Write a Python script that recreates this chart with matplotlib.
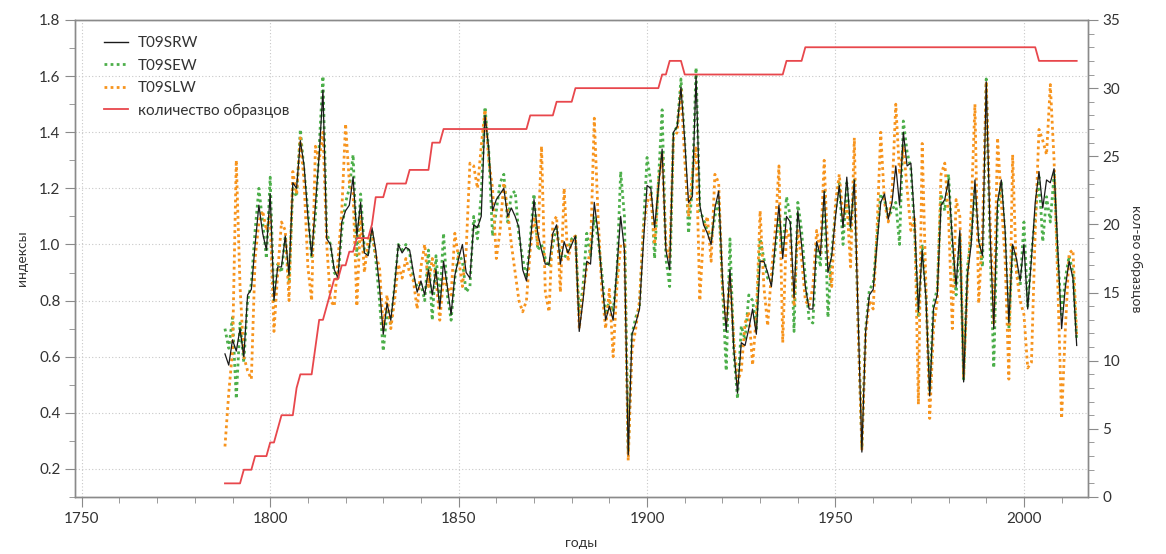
import numpy as np
import matplotlib
matplotlib.use("Agg")
import matplotlib.pyplot as plt
from matplotlib.ticker import MultipleLocator
from matplotlib.lines import Line2D

plt.rcParams["font.family"] = ["Lato", "DejaVu Sans"]

YEAR_FIRST, YEAR_LAST = 1788, 2014
years = np.arange(YEAR_FIRST, YEAR_LAST + 1)

srw = [
    0.61, 0.57, 0.66, 0.62, 0.70, 0.60, 0.82, 0.84, 1.00, 1.14,
    1.04, 0.98, 1.18, 0.80, 0.92, 0.92, 1.03, 0.89, 1.22, 1.20,
    1.37, 1.28, 1.10, 0.96, 1.14, 1.32, 1.55, 1.02, 1.00, 0.91,
    0.88, 1.08, 1.12, 1.14, 1.24, 1.03, 1.15, 0.97, 0.96, 1.06,
    0.98, 0.85, 0.68, 0.79, 0.73, 0.85, 1.00, 0.97, 0.99, 0.98,
    0.90, 0.83, 0.87, 0.82, 0.91, 0.82, 0.91, 0.77, 0.94, 0.85,
    0.75, 0.89, 0.95, 1.00, 0.90, 0.88, 1.07, 1.06, 1.10, 1.46,
    1.34, 1.12, 1.16, 1.18, 1.20, 1.10, 1.13, 1.10, 1.06, 0.91,
    0.87, 1.00, 1.16, 1.04, 0.98, 0.93, 0.93, 1.04, 1.07, 0.93,
    1.01, 0.97, 1.00, 1.03, 0.69, 0.80, 0.94, 0.93, 1.15, 1.04,
    0.88, 0.73, 0.78, 0.73, 0.92, 1.10, 0.98, 0.25, 0.68, 0.72,
    0.77, 1.00, 1.21, 1.20, 1.06, 1.20, 1.34, 0.98, 0.91, 1.40,
    1.42, 1.56, 1.37, 1.15, 1.17, 1.60, 1.14, 1.07, 1.04, 1.00,
    1.13, 1.19, 0.88, 0.69, 0.91, 0.63, 0.47, 0.65, 0.64, 0.70,
    0.77, 0.68, 0.94, 0.94, 0.90, 0.85, 1.00, 1.14, 0.95, 1.10,
    1.08, 0.81, 1.12, 1.00, 0.85, 0.77, 0.77, 1.01, 0.96, 1.19,
    0.90, 0.96, 1.10, 1.21, 1.06, 1.24, 1.06, 1.23, 0.75, 0.26,
    0.69, 0.82, 0.84, 1.00, 1.15, 1.18, 1.09, 1.15, 1.28, 1.14,
    1.40, 1.28, 1.29, 1.08, 0.76, 0.98, 0.81, 0.46, 0.77, 0.82,
    1.14, 1.16, 1.23, 1.02, 0.85, 1.05, 0.51, 0.89, 1.00, 1.23,
    1.01, 0.96, 1.58, 1.05, 0.70, 1.15, 1.23, 1.05, 0.72, 1.00,
    0.95, 0.87, 1.00, 0.77, 0.95, 1.15, 1.26, 1.13, 1.23, 1.22,
    1.27, 0.98, 0.70, 0.85, 0.94, 0.88, 0.64,
]

sew = [
    0.70, 0.63, 0.74, 0.45, 0.72, 0.58, 0.80, 0.86, 1.05, 1.20,
    1.08, 0.95, 1.24, 0.79, 0.93, 0.90, 1.03, 0.86, 1.20, 1.17,
    1.41, 1.26, 1.12, 0.95, 1.10, 1.35, 1.60, 1.04, 1.00, 0.90,
    0.88, 1.05, 1.15, 1.20, 1.32, 0.96, 1.18, 0.98, 0.97, 1.05,
    0.95, 0.80, 0.62, 0.76, 0.72, 0.85, 1.00, 0.98, 1.00, 0.97,
    0.88, 0.85, 0.86, 0.80, 0.98, 0.73, 0.96, 0.80, 1.04, 0.82,
    0.73, 0.88, 0.97, 0.94, 0.83, 0.85, 1.10, 1.02, 1.18, 1.49,
    1.33, 1.03, 1.12, 1.22, 1.25, 1.08, 1.18, 1.19, 1.03, 0.95,
    0.88, 1.02, 1.18, 0.98, 1.00, 0.95, 0.92, 1.00, 1.06, 0.96,
    0.95, 0.98, 1.02, 1.03, 0.75, 0.85, 1.04, 0.96, 1.10, 1.02,
    0.90, 0.75, 0.80, 0.76, 0.90, 1.26, 1.10, 0.26, 0.68, 0.74,
    0.78, 1.05, 1.31, 1.22, 0.95, 1.22, 1.48, 0.95, 0.85, 1.40,
    1.42, 1.59, 1.36, 1.04, 1.20, 1.63, 1.12, 1.09, 1.05, 1.02,
    1.10, 1.16, 0.85, 0.55, 1.02, 0.62, 0.45, 0.71, 0.66, 0.82,
    0.80, 0.70, 1.02, 0.95, 0.88, 0.87, 0.98, 1.10, 0.97, 1.17,
    1.10, 0.69, 1.15, 1.05, 0.88, 0.73, 0.72, 1.00, 0.92, 1.20,
    0.74, 0.97, 1.12, 1.22, 1.00, 1.22, 1.05, 1.23, 0.72, 0.28,
    0.70, 0.84, 0.86, 1.02, 1.18, 1.16, 1.10, 1.12, 1.15, 1.00,
    1.44, 1.33, 1.27, 1.05, 0.74, 1.00, 0.82, 0.48, 0.79, 0.84,
    1.18, 1.12, 1.25, 1.00, 0.82, 1.03, 0.52, 0.92, 1.02, 1.20,
    1.02, 0.92, 1.59, 1.00, 0.56, 1.12, 1.22, 1.03, 0.70, 1.00,
    0.92, 0.85, 1.08, 0.78, 0.97, 1.10, 1.24, 1.01, 1.17, 1.08,
    1.25, 0.95, 0.75, 0.88, 0.96, 0.90, 0.66,
]

slw = [
    0.28, 0.47, 0.62, 1.30, 0.85, 0.60, 0.55, 0.52, 0.95, 1.08,
    1.12, 1.05, 1.10, 0.69, 0.90, 1.08, 1.05, 0.80, 1.26, 1.18,
    1.38, 1.22, 0.92, 0.80, 1.35, 1.30, 1.40, 1.00, 0.80, 0.78,
    0.95, 1.12, 1.43, 1.22, 1.18, 0.78, 1.10, 0.90, 1.02, 1.04,
    0.96, 0.92, 0.70, 0.82, 0.70, 0.80, 0.93, 0.88, 0.95, 0.90,
    0.87, 0.77, 0.92, 1.00, 0.85, 0.95, 0.88, 0.73, 0.88, 0.85,
    0.82, 1.04, 0.95, 0.85, 0.98, 1.29, 1.28, 1.20, 1.35, 1.48,
    1.30, 1.20, 0.95, 1.05, 1.22, 1.12, 1.00, 0.90, 0.80, 0.76,
    0.80, 0.98, 1.10, 1.00, 1.35, 0.83, 0.76, 1.08, 1.10, 0.83,
    1.20, 0.94, 1.02, 1.03, 0.70, 0.82, 0.92, 0.98, 1.45, 1.10,
    0.84, 0.70, 0.84, 0.60, 0.85, 1.00, 1.00, 0.23, 0.62, 0.70,
    0.80, 1.05, 1.15, 1.18, 1.00, 1.22, 1.32, 1.00, 0.95, 1.38,
    1.40, 1.55, 1.30, 1.10, 1.25, 1.35, 0.80, 1.05, 1.10, 0.94,
    1.25, 1.22, 0.85, 0.72, 0.88, 0.66, 0.51, 0.55, 0.72, 0.76,
    0.57, 0.75, 1.12, 0.85, 0.71, 0.90, 1.05, 1.28, 0.65, 1.05,
    1.02, 0.78, 1.05, 0.95, 0.80, 0.78, 0.85, 1.05, 0.97, 1.30,
    0.95, 0.85, 1.15, 1.25, 1.10, 1.15, 0.92, 1.38, 0.70, 0.27,
    0.68, 0.80, 0.77, 1.05, 1.40, 1.15, 1.08, 1.18, 1.50, 1.25,
    1.35, 1.20, 1.05, 1.10, 0.43, 1.36, 0.85, 0.38, 0.70, 0.80,
    1.25, 1.29, 1.10, 0.70, 1.16, 1.10, 0.53, 0.85, 1.12, 1.50,
    0.79, 1.05, 1.58, 1.10, 0.72, 1.38, 1.15, 0.95, 0.52, 1.32,
    0.90, 0.80, 0.75, 0.56, 0.58, 1.05, 1.41, 1.37, 1.32, 1.57,
    1.30, 0.85, 0.38, 0.70, 0.97, 0.98, 0.68,
]

# sample depth: (count, number of consecutive years)
count_runs = [
    (1, 5), (2, 3), (3, 4), (4, 2), (5, 1), (6, 4), (8, 1), (9, 4),
    (11, 1), (13, 2), (14, 1), (15, 1), (16, 2), (17, 2), (18, 2),
    (19, 4), (20, 1), (22, 3), (23, 6), (24, 6), (26, 3), (27, 23),
    (28, 7), (29, 5), (30, 23), (31, 2), (32, 4), (31, 27), (32, 5),
    (33, 62), (32, 11),
]
counts = np.repeat([c for c, n in count_runs], [n for c, n in count_runs])

GREY = "#8a8a8a"
TXT = "#333333"

fig = plt.figure(figsize=(11.66, 5.54), dpi=100)
ax = fig.add_axes([0.0643, 0.1029, 0.8688, 0.861])
ax2 = ax.twinx()

ax.plot(years, sew, color="#4daf4a", lw=2.0, ls=(0, (1, 1.2)), zorder=3)
ax.plot(years, slw, color="#f7941d", lw=2.0, ls=(0, (1, 1.2)), zorder=4)
ax.plot(years, srw, color="#1a1a1a", lw=0.9, zorder=5)
ax2.plot(years, counts, color="#e8474c", lw=1.3)

ax.set_xlim(1748.2, 2017)
ax.set_ylim(0.1, 1.8)
ax2.set_ylim(0, 35)

ax.xaxis.set_major_locator(MultipleLocator(50))
ax.xaxis.set_minor_locator(MultipleLocator(10))
ax.yaxis.set_major_locator(MultipleLocator(0.2))
ax.yaxis.set_minor_locator(MultipleLocator(0.1))
ax2.yaxis.set_major_locator(MultipleLocator(5))
ax2.yaxis.set_minor_locator(MultipleLocator(1))
ax.yaxis.set_major_formatter(plt.FuncFormatter(lambda v, p: f"{v:.1f}"))

ax.grid(True, which="major", color="#c8c8c8", ls=(0, (1, 2)), lw=0.8)
ax.set_axisbelow(True)

for a in (ax, ax2):
    for s in a.spines.values():
        s.set_color(GREY)
        s.set_linewidth(1.0)
    a.tick_params(which="major", direction="out", length=7, color=GREY,
                  labelsize=11, labelcolor=TXT)
    a.tick_params(which="minor", direction="out", length=4, color=GREY)

ax.set_xlabel("годы", fontsize=10, color=TXT, labelpad=8)
ax.set_ylabel("индексы", fontsize=10, color=TXT, labelpad=8)
ax2.set_ylabel("кол-во образцов", fontsize=10, color=TXT, rotation=270,
               labelpad=16)

handles = [
    Line2D([], [], color="#1a1a1a", lw=1.0),
    Line2D([], [], color="#4daf4a", lw=2.0, ls=(0, (1, 1.2))),
    Line2D([], [], color="#f7941d", lw=2.0, ls=(0, (1, 1.2))),
    Line2D([], [], color="#e8474c", lw=1.3),
]
labels = ["T09SRW", "T09SEW", "T09SLW", "количество образцов"]
ax.legend(handles, labels, loc="upper left", bbox_to_anchor=(0.015, 0.995),
          frameon=False, fontsize=11, handlelength=1.6, handletextpad=0.6,
          labelspacing=0.55, labelcolor=TXT)

fig.savefig("out.png", dpi=100)
